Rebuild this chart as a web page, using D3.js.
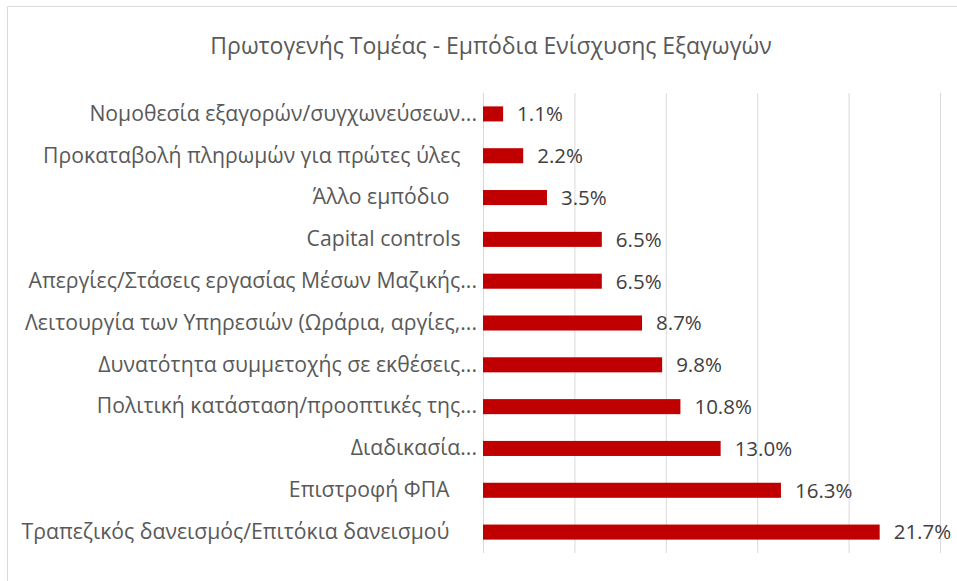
<!DOCTYPE html>
<html>
<head>
<meta charset="utf-8">
<script src="https://cdn.jsdelivr.net/npm/d3@7"></script>
<style>
  body { margin: 0; background: #fff; }
  svg { display: block; overflow: visible; }
</style>
</head>
<body>
<svg class="chart" width="957" height="581"></svg>
<script>
// trailing spaces are part of the labels as they come from the source sheet
const categories = [
  'Νομοθεσία εξαγορών/συγχωνεύσεων...',
  'Προκαταβολή πληρωμών για πρώτες ύλες   ',
  'Άλλο εμπόδιο     ',
  'Capital controls   ',
  'Απεργίες/Στάσεις εργασίας Μέσων Μαζικής...',
  'Λειτουργία των Υπηρεσιών (Ωράρια, αργίες,...',
  'Δυνατότητα συμμετοχής σε εκθέσεις...',
  'Πολιτική κατάσταση/προοπτικές της...',
  'Διαδικασία...',
  'Επιστροφή ΦΠΑ     ',
  'Τραπεζικός δανεισμός/Επιτόκια δανεισμού     '
]
const values = [1.1, 2.2, 3.5, 6.5, 6.5, 8.7, 9.8, 10.8, 13.0, 16.3, 21.7]
const xTicks = [0, 5, 10, 15, 20, 25]
const title = 'Πρωτογενής Τομέας - Εμπόδια Ενίσχυσης Εξαγωγών'

const data = categories.map((c, i) => ({category: c, value: values[i]}))

const svg = d3.select('.chart')
  .attr('font-family', '"Open Sans", sans-serif')
const width = +svg.attr('width')
const height = +svg.attr('height')
const margin = {top: 93, bottom: 28, left: 483, right: 17}
const innerWidth = width - margin.left - margin.right
const innerHeight = height - margin.top - margin.bottom

// chart frame, only top and left edges fall inside the picture
svg.append('line')
  .attr('x1', 7.5).attr('x2', 7.5)
  .attr('y1', 6.5).attr('y2', height)
  .attr('stroke', '#d9d9d9')
svg.append('line')
  .attr('x1', 7.5).attr('x2', width)
  .attr('y1', 6.5).attr('y2', 6.5)
  .attr('stroke', '#d9d9d9')

svg.append('text')
  .attr('x', 491)
  .attr('y', 54)
  .attr('text-anchor', 'middle')
  .attr('font-size', 23)
  .attr('fill', '#595959')
  .text(title)

const xScale = d3.scaleLinear()
  .domain([0, 25])
  .range([0, innerWidth])

const yScale = d3.scaleBand()
  .domain(categories)
  .range([0, innerHeight])
  .paddingInner(0.64)
  .paddingOuter(0.32)

const g = svg.append('g')
  .attr('transform', `translate(${margin.left},${margin.top})`)

const xAxis = g.append('g')
  .attr('transform', `translate(0,${innerHeight})`)
  .call(d3.axisBottom(xScale).tickValues(xTicks).tickSize(-innerHeight))
xAxis.select('.domain').remove()
xAxis.selectAll('.tick text').remove()
xAxis.selectAll('.tick line').attr('stroke', '#d9d9d9')

const yAxis = g.append('g')
  .call(d3.axisLeft(yScale).tickSize(0).tickPadding(6))
  .attr('font-family', null)
  .attr('font-size', null)
yAxis.select('.domain').remove()
yAxis.selectAll('text')
  .attr('font-size', 21.2)
  .attr('fill', '#595959')
  .style('white-space', 'pre')

g.selectAll('rect.bar')
  .data(data)
  .enter()
  .append('rect')
  .attr('class', 'bar')
  .attr('x', 0)
  .attr('y', d => yScale(d.category))
  .attr('width', d => xScale(d.value))
  .attr('height', yScale.bandwidth())
  .attr('fill', '#c00000')

g.selectAll('text.val')
  .data(data)
  .enter()
  .append('text')
  .attr('class', 'val')
  .attr('x', d => xScale(d.value) + 14)
  .attr('y', d => yScale(d.category) + yScale.bandwidth() / 2)
  .attr('dy', '0.36em')
  .attr('font-size', 20.5)
  .attr('fill', '#404040')
  .text(d => d.value.toFixed(1) + '%')
</script>
</body>
</html>
